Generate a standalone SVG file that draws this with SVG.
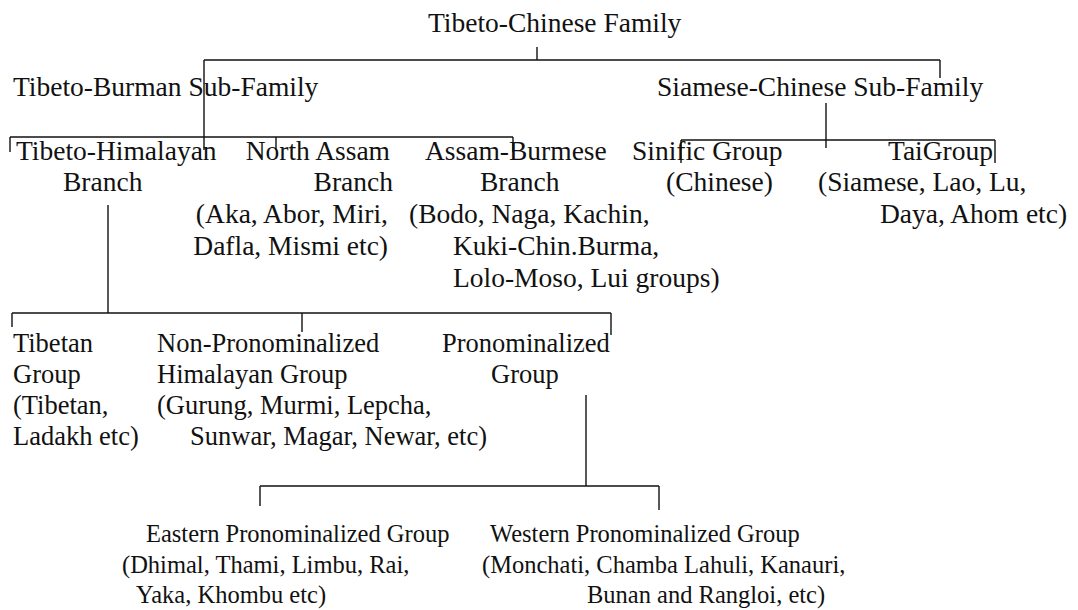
<svg xmlns="http://www.w3.org/2000/svg" width="1078" height="610" viewBox="0 0 1078 610">
<style>
text{font-family:"Liberation Serif","Times New Roman",serif;fill:#111;}
.t{font-size:27.5px;}
.s{font-size:26.5px;}
.b{font-size:24.5px;}
.e{text-anchor:end;}
#connectors line{stroke:#111;stroke-width:1.4;fill:none;}
</style>
<rect width="1078" height="610" fill="#fff"/>
<g id="connectors">
<line x1="537" y1="47" x2="537" y2="60"/>
<line x1="204" y1="60" x2="940" y2="60"/>
<line x1="940" y1="60" x2="940" y2="78"/>
<line x1="204" y1="60" x2="204" y2="150"/>
<line x1="10" y1="137" x2="513" y2="137"/>
<line x1="10" y1="137" x2="10" y2="152"/>
<line x1="276" y1="137" x2="276" y2="150"/>
<line x1="513" y1="137" x2="513" y2="152"/>
<line x1="826" y1="103" x2="826" y2="148"/>
<line x1="681" y1="140" x2="995" y2="140"/>
<line x1="681" y1="140" x2="681" y2="163"/>
<line x1="995" y1="140" x2="995" y2="163"/>
<line x1="108" y1="205" x2="108" y2="313"/>
<line x1="12" y1="313" x2="611" y2="313"/>
<line x1="12" y1="313" x2="12" y2="327"/>
<line x1="302" y1="313" x2="302" y2="332"/>
<line x1="611" y1="313" x2="611" y2="335"/>
<line x1="586" y1="395" x2="586" y2="486"/>
<line x1="260" y1="486" x2="659" y2="486"/>
<line x1="260" y1="486" x2="260" y2="506"/>
<line x1="659" y1="486" x2="659" y2="510"/>
</g>
<g id="tibeto-chinese"><text class="t" x="428" y="32">Tibeto-Chinese Family</text></g>
<g id="tibeto-burman"><text class="t" x="13" y="96">Tibeto-Burman Sub-Family</text></g>
<g id="siamese-chinese"><text class="t" x="657" y="96">Siamese-Chinese Sub-Family</text></g>
<g id="tibeto-himalayan">
<text class="t" x="16" y="160">Tibeto-Himalayan</text>
<text class="t" x="63" y="191">Branch</text>
</g>
<g id="north-assam">
<text class="t e" x="390" y="160">North Assam</text>
<text class="t e" x="393" y="191">Branch</text>
<text class="t e" x="388" y="223">(Aka, Abor, Miri,</text>
<text class="t e" x="388" y="255">Dafla, Mismi etc)</text>
</g>
<g id="assam-burmese">
<text class="t" x="425" y="160">Assam-Burmese</text>
<text class="t" x="480" y="191">Branch</text>
<text class="t" x="409" y="223">(Bodo, Naga, Kachin,</text>
<text class="t" x="453" y="255">Kuki-Chin.Burma,</text>
<text class="t" x="453" y="287">Lolo-Moso, Lui groups)</text>
</g>
<g id="sinific">
<text class="t" x="632" y="160">Sinific Group</text>
<text class="t" x="666" y="191">(Chinese)</text>
</g>
<g id="tai">
<text class="t" x="888" y="160">TaiGroup</text>
<text class="t" x="818" y="191">(Siamese, Lao, Lu,</text>
<text class="t" x="880" y="223">Daya, Ahom etc)</text>
</g>
<g id="tibetan">
<text class="s" x="13" y="352">Tibetan</text>
<text class="s" x="13" y="383">Group</text>
<text class="s" x="13" y="414">(Tibetan,</text>
<text class="s" x="13" y="445">Ladakh etc)</text>
</g>
<g id="non-pronominalized">
<text class="s" x="157" y="352">Non-Pronominalized</text>
<text class="s" x="157" y="383">Himalayan Group</text>
<text class="s" x="157" y="414">(Gurung, Murmi, Lepcha,</text>
<text class="s" x="190" y="445">Sunwar, Magar, Newar, etc)</text>
</g>
<g id="pronominalized">
<text class="s" x="442" y="352">Pronominalized</text>
<text class="s" x="491" y="383">Group</text>
</g>
<g id="eastern">
<text class="b" x="146" y="542">Eastern Pronominalized Group</text>
<text class="b" x="122" y="573">(Dhimal, Thami, Limbu, Rai,</text>
<text class="b" x="136" y="603">Yaka, Khombu etc)</text>
</g>
<g id="western">
<text class="b" x="490" y="542">Western Pronominalized Group</text>
<text class="b" x="482" y="573">(Monchati, Chamba Lahuli, Kanauri,</text>
<text class="b" x="587" y="603">Bunan and Rangloi, etc)</text>
</g>
</svg>
